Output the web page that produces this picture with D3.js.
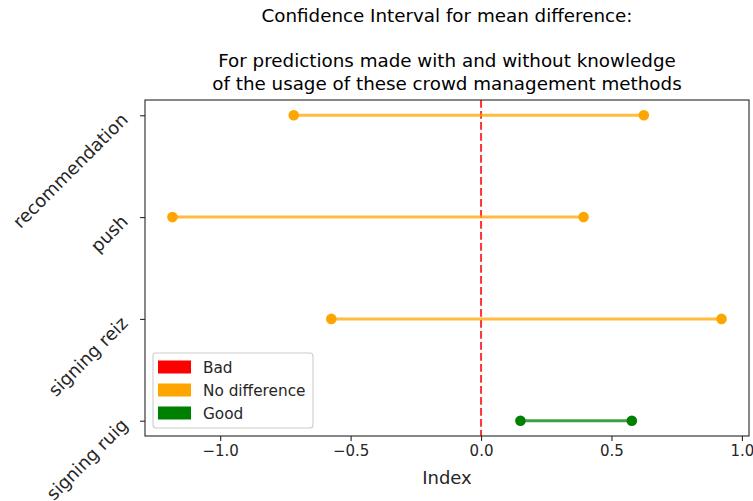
<!DOCTYPE html>
<html>
<head>
<meta charset="utf-8">
<script src="https://cdn.jsdelivr.net/npm/d3@7"></script>
<style>
  html, body { margin: 0; padding: 0; background: #fff; }
  svg { display: block; font-family: "DejaVu Sans", sans-serif; }
</style>
</head>
<body>
<svg id="chart" width="753" height="501"></svg>
<script>
// Crowd management methods (bottom to top on the y axis)
const methods = ["signing ruig", "signing reiz", "push", "recommendation"];
// Lower and upper bounds of the confidence interval for each method
const lowerBounds = [0.151, -0.574, -1.183, -0.718];
const upperBounds = [0.578, 0.922, 0.393, 0.624];
// Verdict per method: "Good", "No difference" or "Bad"
const verdicts = ["Good", "No difference", "No difference", "No difference"];
const xTicks = [-1.0, -0.5, 0.0, 0.5, 1.0];
const legendLabels = ["Bad", "No difference", "Good"];
const legendColors = ["#ff0000", "#ffa500", "#008000"];
const titleLines = [
  "Confidence Interval for mean difference:",
  "",
  "For predictions made with and without knowledge",
  "of the usage of these crowd management methods"
];
const xLabel = "Index";

const colorOf = d3.scaleOrdinal().domain(legendLabels).range(legendColors);

const svg = d3.select("#chart");
const plot = { left: 145, right: 749, top: 100, bottom: 436 };

// 5% margin around the data range, like the usual autoscale
const lo = d3.min(lowerBounds), hi = d3.max(upperBounds);
const pad = (hi - lo) * 0.05;
const x = d3.scaleLinear().domain([lo - pad, hi + pad]).range([plot.left, plot.right]);
const y = d3.scaleLinear().domain([-0.15, methods.length - 1 + 0.15]).range([plot.bottom, plot.top]);

// Title
const title = svg.append("g").attr("font-size", 18.3).attr("fill", "#000").attr("text-anchor", "middle");
titleLines.forEach((t, i) => {
  if (t) title.append("text")
    .attr("x", (plot.left + plot.right) / 2)
    .attr("y", 22 + i * 22.6)
    .text(t);
});

// Zero reference line
svg.append("line")
  .attr("x1", x(0)).attr("x2", x(0))
  .attr("y1", plot.top).attr("y2", plot.bottom)
  .attr("stroke", "#ff0000").attr("stroke-opacity", 0.8)
  .attr("stroke-width", 2).attr("stroke-dasharray", "7.7,3.3");

// Interval bars
const rows = methods.map((m, i) => ({ m, i, lo: lowerBounds[i], hi: upperBounds[i], v: verdicts[i] }));
const g = svg.append("g");
g.selectAll("line.ci").data(rows).join("line")
  .attr("class", "ci")
  .attr("x1", d => x(d.lo)).attr("x2", d => x(d.hi))
  .attr("y1", d => y(d.i)).attr("y2", d => y(d.i))
  .attr("stroke", d => colorOf(d.v)).attr("stroke-opacity", 0.75)
  .attr("stroke-width", 3);
const ends = rows.flatMap(d => [{ v: d.v, i: d.i, x: d.lo }, { v: d.v, i: d.i, x: d.hi }]);
g.selectAll("circle").data(ends).join("circle")
  .attr("cx", d => x(d.x)).attr("cy", d => y(d.i))
  .attr("r", 5.3).attr("fill", d => colorOf(d.v));

// Axes
const xAxis = svg.append("g")
  .attr("transform", `translate(0,${plot.bottom})`)
  .call(d3.axisBottom(x).tickValues(xTicks).tickFormat(d3.format(".1f")).tickSize(4.9).tickPadding(4.9));
xAxis.select(".domain").remove();
xAxis.selectAll("text").attr("font-size", 15).attr("fill", "#262626").attr("font-family", "DejaVu Sans");
xAxis.selectAll("line").attr("stroke", "#262626").attr("stroke-width", 1.1);

const yAxis = svg.append("g")
  .attr("transform", `translate(${plot.left},0)`)
  .call(d3.axisLeft(y).tickValues(d3.range(methods.length)).tickFormat(i => methods[i]).tickSize(4.9));
yAxis.select(".domain").remove();
yAxis.selectAll("line").attr("stroke", "#262626").attr("stroke-width", 1.1);
yAxis.selectAll("text")
  .attr("font-size", 18).attr("fill", "#262626").attr("font-family", "DejaVu Sans")
  .attr("text-anchor", "end").attr("dy", null)
  .attr("x", -16).attr("y", 5)
  .attr("transform", "rotate(-45,-16,5)");

// Frame
svg.append("rect")
  .attr("x", plot.left).attr("y", plot.top)
  .attr("width", plot.right - plot.left).attr("height", plot.bottom - plot.top)
  .attr("fill", "none").attr("stroke", "#262626").attr("stroke-width", 1.1);

// X label
svg.append("text")
  .attr("x", (plot.left + plot.right) / 2).attr("y", 484)
  .attr("text-anchor", "middle").attr("font-size", 18).attr("fill", "#262626")
  .text(xLabel);

// Legend
const lg = svg.append("g").attr("transform", "translate(153,353)");
lg.append("rect").attr("width", 160).attr("height", 75).attr("rx", 3)
  .attr("fill", "#fff").attr("fill-opacity", 0.8)
  .attr("stroke", "#cccccc").attr("stroke-width", 1.1);
const items = lg.selectAll("g.item").data(legendLabels).join("g")
  .attr("class", "item")
  .attr("transform", (d, i) => `translate(5,${14 + i * 23})`);
items.append("rect").attr("x", 0).attr("y", -6.5).attr("width", 33).attr("height", 13)
  .attr("fill", d => colorOf(d));
items.append("text").attr("x", 45).attr("y", 5.5).attr("font-size", 15.3).attr("fill", "#262626")
  .text(d => d);
</script>
</body>
</html>
